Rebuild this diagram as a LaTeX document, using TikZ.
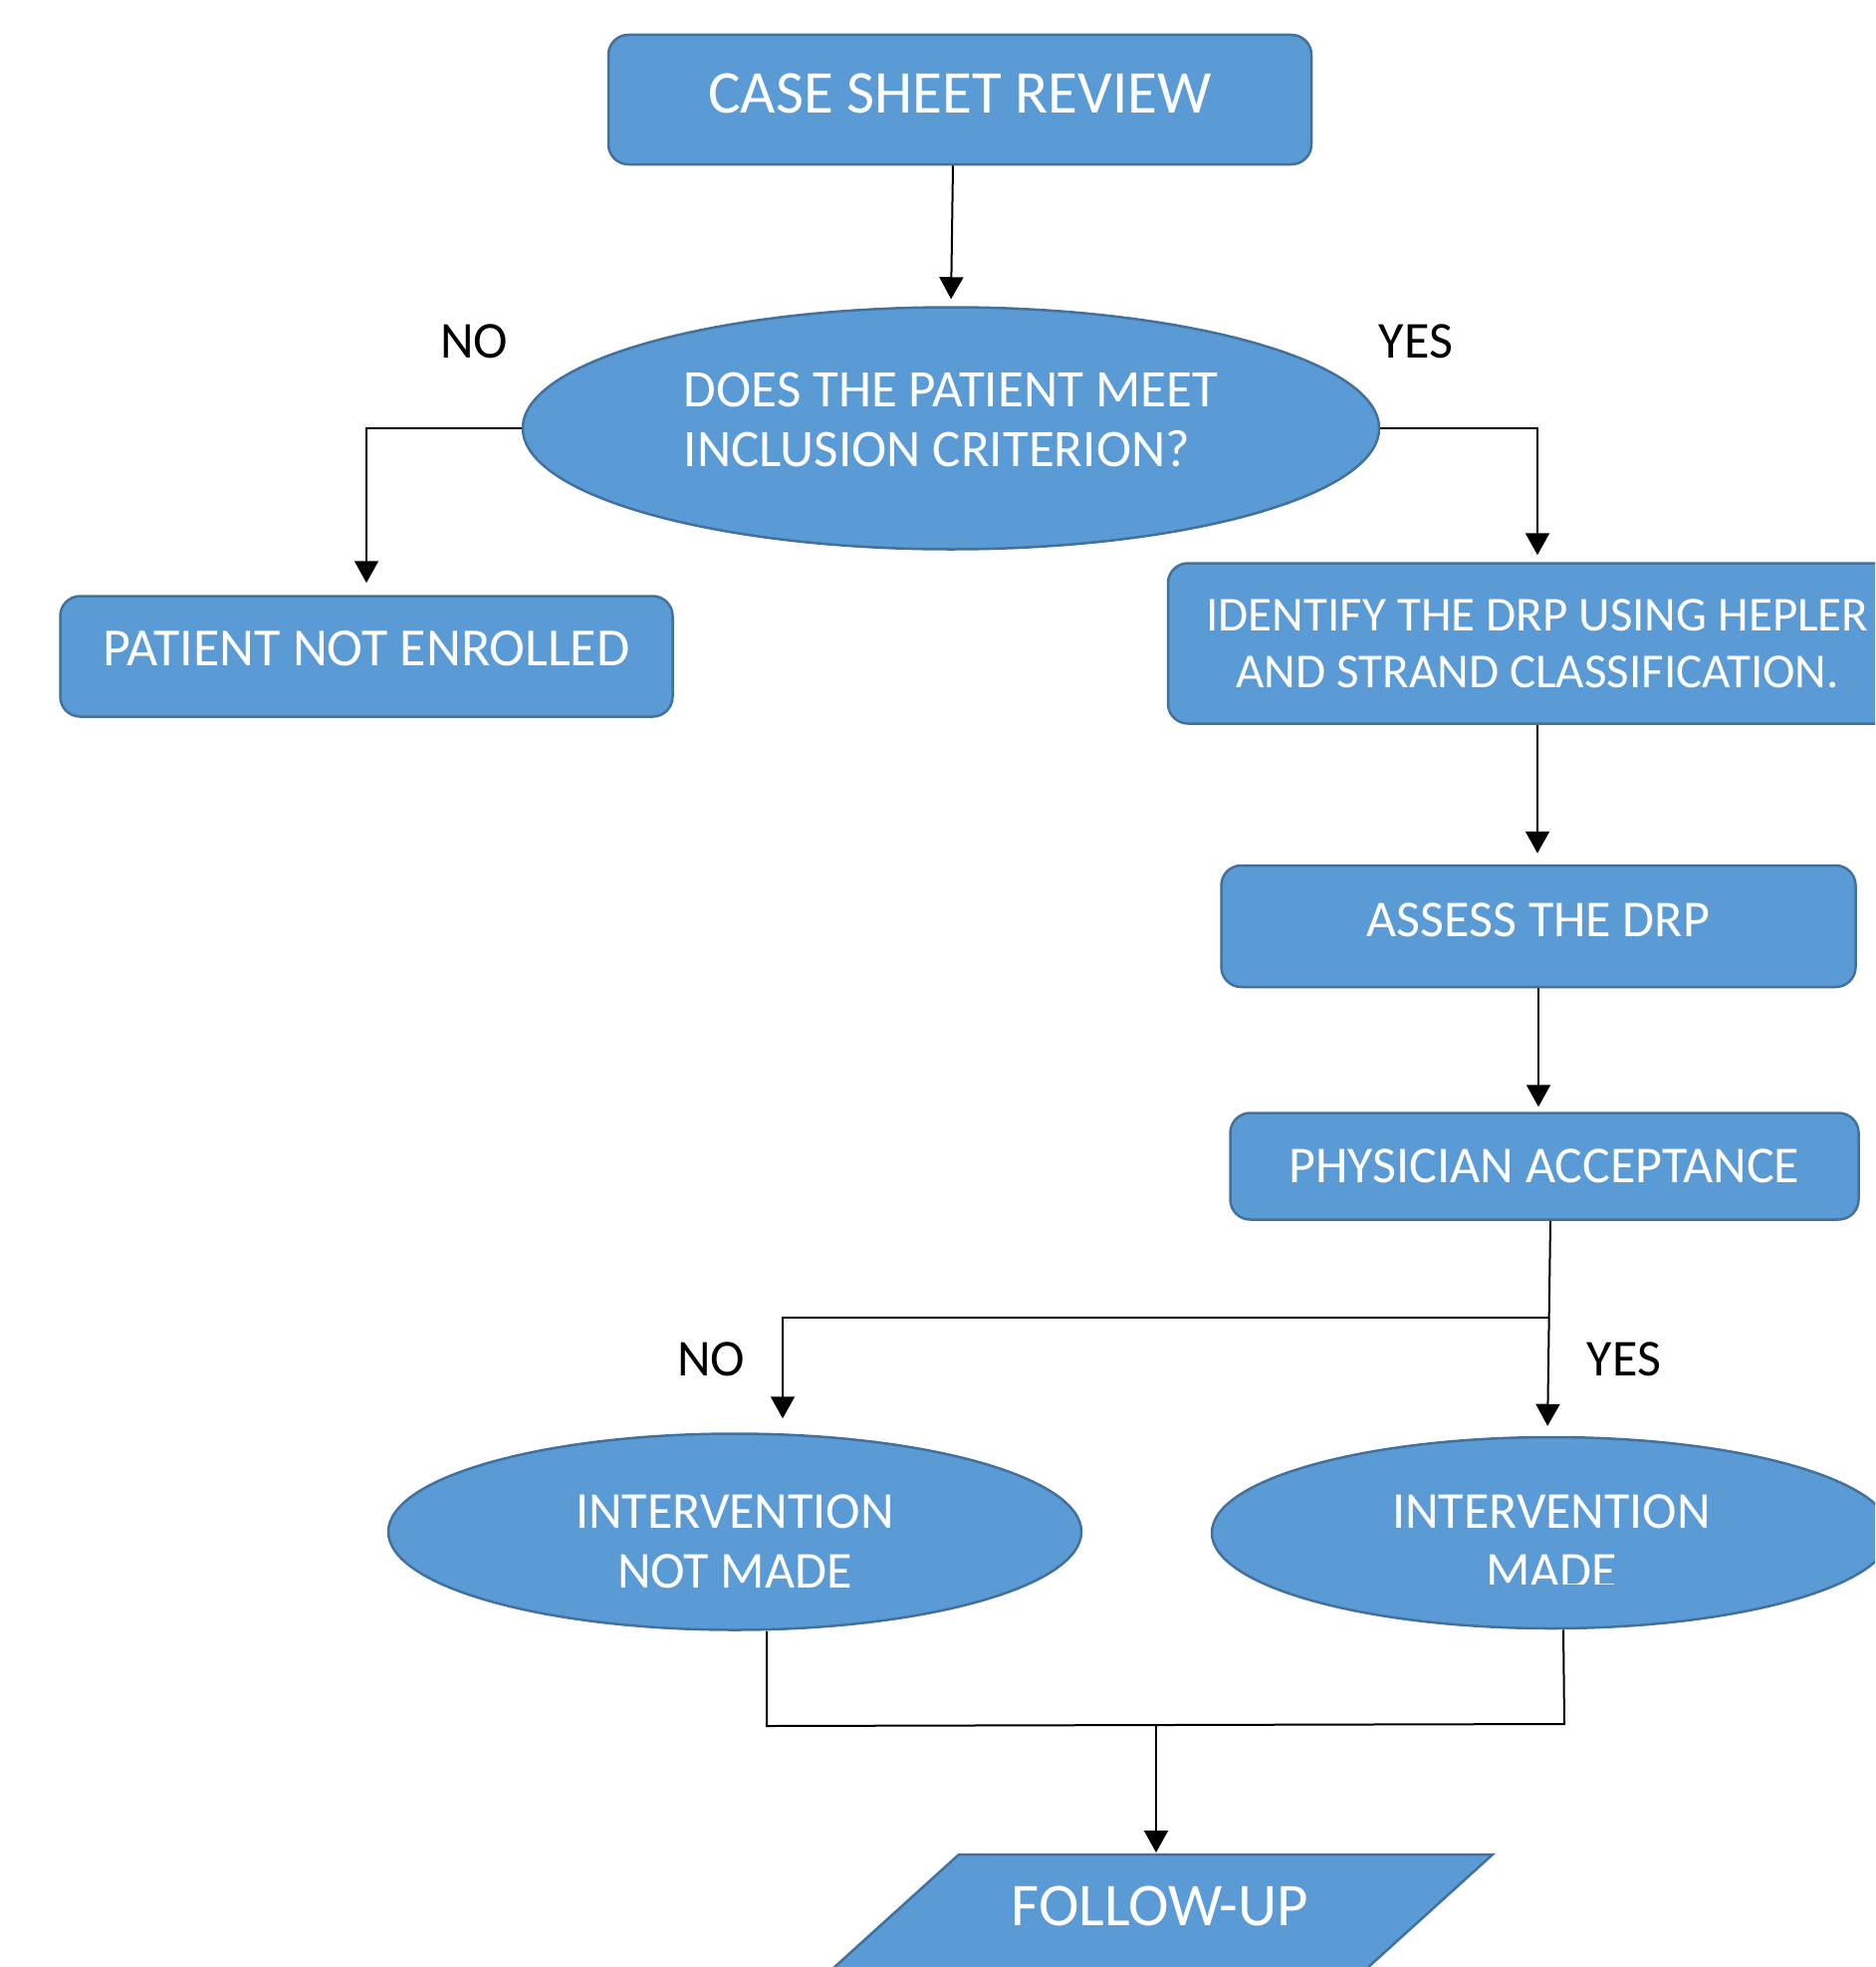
\documentclass[tikz,border=0pt]{standalone}
\usepackage{fontspec}
\setmainfont{Carlito}
\usetikzlibrary{arrows.meta,shapes.geometric}
\definecolor{boxfill}{HTML}{5B9BD5}
\definecolor{boxline}{HTML}{41719C}
\begin{document}
\begin{tikzpicture}[x=1pt,y=-1pt,
  blockbox/.style={draw=boxline, line width=2.5pt, fill=boxfill, rounded corners=20pt,
    text=white, font=\fontsize{52}{57}\selectfont, align=center, inner sep=0pt},
  ovalnode/.style={ellipse, draw=boxline, line width=2.5pt, fill=boxfill,
    text=white, font=\fontsize{52}{60}\selectfont, inner sep=0pt},
  ovaltext/.style={text=white, font=\fontsize{52}{60}\selectfont, inner sep=0pt},
  conn/.style={line width=2pt, -{Triangle[width=24pt,length=22pt]}},
  plain/.style={line width=2pt},
  lbl/.style={font=\fontsize{52}{60}\selectfont, text=black, inner sep=0pt}]
\clip (0,0) rectangle (1883,1975);
\fill[white] (0,0) rectangle (1883,1975);

% nodes
\node[blockbox, minimum width=706pt, minimum height=130pt] (case) at (964,100) {};
\node[text=white, inner sep=0pt, font=\fontsize{61}{66}\selectfont] (casetext) at (964,94) {CASE SHEET REVIEW};
\node[ovalnode, minimum width=860pt, minimum height=243pt] (inc) at (955,430) {};
\node[ovaltext, align=left, font=\fontsize{53}{60}\selectfont] (inctext) at (955,421) {DOES THE PATIENT MEET\\INCLUSION CRITERION?};
\node[blockbox, minimum width=615pt, minimum height=121pt] (noenr) at (368,659) {};
\node[ovaltext, font=\fontsize{54}{60}\selectfont] (noenrtext) at (368,651) {PATIENT NOT ENROLLED};
\node[blockbox, minimum width=742pt, minimum height=161pt, font=\fontsize{49}{57}\selectfont] (ident) at (1544,646) {IDENTIFY THE DRP USING HEPLER\\AND STRAND CLASSIFICATION.};
\node[blockbox, minimum width=637pt, minimum height=122pt] (assess) at (1545,930) {};
\node[ovaltext] (assesstext) at (1545,924) {ASSESS THE DRP};
\node[blockbox, minimum width=631pt, minimum height=107pt] (phys) at (1551,1171) {PHYSICIAN ACCEPTANCE};
\node[ovalnode, minimum width=696pt, minimum height=197pt] (notmade) at (738,1538) {};
\node[ovaltext, align=center] (notmadetext) at (738,1548) {INTERVENTION\\NOT MADE};
\node[ovalnode, minimum width=682pt, minimum height=192pt] (made) at (1558,1539) {};
\begin{scope}
  \clip (1217,1440) rectangle (1900,1590);
  \node[ovaltext, align=center] (madetext) at (1558,1548) {INTERVENTION\\MADE};
\end{scope}
\fill[boxfill, draw=boxline, line width=2.5pt] (963,1862) -- (1499,1862) -- (1330,2015) -- (794,2015) -- cycle;
\node[ovaltext, font=\fontsize{61}{66}\selectfont] (follow) at (1165,1914) {FOLLOW-UP};

% labels
\node[lbl] (no1) at (476,343) {NO};
\node[lbl] (yes1) at (1422,343) {YES};
\node[lbl] (no2) at (714,1365) {NO};
\node[lbl] (yes2) at (1631,1365) {YES};

% connectors
\draw[conn, shorten >=7pt] ([xshift=-7pt]case.south) -- (inc.north);
\draw[conn, shorten >=12pt] (inc.west) -| (noenr.north);
\draw[conn, shorten >=7pt] (inc.east) -| (ident.north);
\draw[conn, shorten >=11pt] (ident.south) -- (ident.south |- assess.north);
\draw[conn, shorten >=5pt] (assess.south) -- (assess.south |- phys.north);
\draw[conn, shorten >=10pt] ([xshift=6pt]phys.south) -- ([xshift=-4pt]made.north);
\coordinate (split) at (1555,1323);
\draw[conn, shorten >=14pt] (split) -| ([xshift=48pt]notmade.north);
\coordinate (jl) at (770,1733);
\coordinate (jr) at (1571,1731);
\draw[plain] ([xshift=32pt]notmade.south) -- (jl) -- (jr) -- ([xshift=12pt]made.south);
\coordinate (jm) at (1161,1732);
\coordinate (fu) at (1161,1862);
\draw[conn, shorten >=2pt] (jm) -- (fu);
\end{tikzpicture}
\end{document}
